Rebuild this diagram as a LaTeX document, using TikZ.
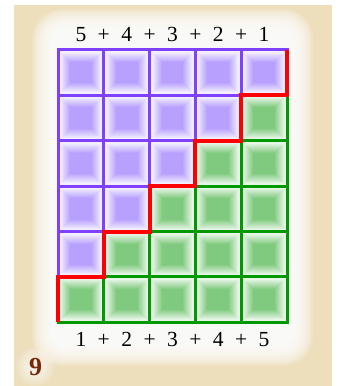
\documentclass[tikz,border=0pt]{standalone}
\usepackage{fontspec}
\setmainfont{Liberation Serif}
\usetikzlibrary{positioning}
\definecolor{bg}{RGB}{237,222,188}
\definecolor{pulight}{RGB}{243,239,255}
\definecolor{pudark}{RGB}{184,160,255}
\definecolor{puline}{RGB}{128,64,255}
\definecolor{grlight}{RGB}{230,245,230}
\definecolor{grdark}{RGB}{128,202,128}
\definecolor{grline}{RGB}{0,153,0}
\definecolor{stair}{RGB}{255,0,0}
\definecolor{numcol}{RGB}{122,40,10}
\tikzset{
  cell/.style={rectangle, minimum width=45.8pt, minimum height=45.4pt, inner sep=0pt, outer sep=0pt,
    line width=3pt, draw=#1line, fill=#1light,
    path picture={
      \foreach \k in {0,...,9}{
        \pgfmathtruncatemacro\pc{10+\k*10}
        \pgfmathsetmacro\d{3+\k}
        \fill[#1dark!\pc!#1light] ([shift={(\d pt,\d pt)}]path picture bounding box.south west)
          rectangle ([shift={(-\d pt,-\d pt)}]path picture bounding box.north east);
      }
    }},
  lbl/.style={font=\fontsize{21.5}{26}\selectfont, inner sep=0pt, anchor=base},
  stairline/.style={line width=4pt, draw=stair, line join=miter}
}
\begin{document}
\begin{tikzpicture}[x=1pt,y=1pt]
\useasboundingbox (0,0) rectangle (338,386);
\fill[bg] (14,0) rectangle (332,381);
% soft white glow behind the grid
\foreach \i in {0,...,15}
  \fill[white, fill opacity=0.15, rounded corners={(14+\i)*1pt}] ({53-\i*1.4},{41-\i*1.4}) rectangle ({292+\i*1.4},{356+\i*1.4});
\coordinate (numc) at (35.5,19);
\foreach \i in {0,...,9}
  \fill[white, fill opacity=0.1] (numc) circle ({5+\i*1.6});

% the 6x5 grid
\foreach \r in {1,...,6}
  \foreach \c in {1,...,5}{
    \pgfmathtruncatemacro\g{(\c+\r)>6}
    \ifnum\g=1 \def\kind{gr}\else\def\kind{pu}\fi
    \node[cell=\kind] (c\r\c) at ({58+(\c-0.5)*45.8},{336-(\r-0.5)*45.4}) {};
  }

\draw[stairline] (c15.north east) -- (c15.south east) -- (c25.north west) -- (c25.south west)
  -- (c34.north west) -- (c34.south west) -- (c43.north west) -- (c43.south west)
  -- (c52.north west) -- (c52.south west) -- (c61.north west) -- (c61.south west);

% sums
\node[lbl] (t1) at ([yshift=8pt]c11.north) {5};
\node[lbl] (t2) at ([yshift=8pt]c12.north) {4};
\node[lbl] (t3) at ([yshift=8pt]c13.north) {3};
\node[lbl] (t4) at ([yshift=8pt]c14.north) {2};
\node[lbl] (t5) at ([yshift=8pt]c15.north) {1};
\node[lbl] (tp1) at ([yshift=8pt]c11.north east) {+};
\node[lbl] (tp2) at ([yshift=8pt]c12.north east) {+};
\node[lbl] (tp3) at ([yshift=8pt]c13.north east) {+};
\node[lbl] (tp4) at ([yshift=8pt]c14.north east) {+};

\node[lbl] (b1) at ([yshift=-24pt]c61.south) {1};
\node[lbl] (b2) at ([yshift=-24pt]c62.south) {2};
\node[lbl] (b3) at ([yshift=-24pt]c63.south) {3};
\node[lbl] (b4) at ([yshift=-24pt]c64.south) {4};
\node[lbl] (b5) at ([yshift=-24pt]c65.south) {5};
\node[lbl] (bp1) at ([yshift=-24pt]c61.south east) {+};
\node[lbl] (bp2) at ([yshift=-24pt]c62.south east) {+};
\node[lbl] (bp3) at ([yshift=-24pt]c63.south east) {+};
\node[lbl] (bp4) at ([yshift=-24pt]c64.south east) {+};

\node[font=\fontsize{26}{31}\selectfont\bfseries, text=numcol, inner sep=0pt] (num) at (numc) {9};
\end{tikzpicture}
\end{document}
